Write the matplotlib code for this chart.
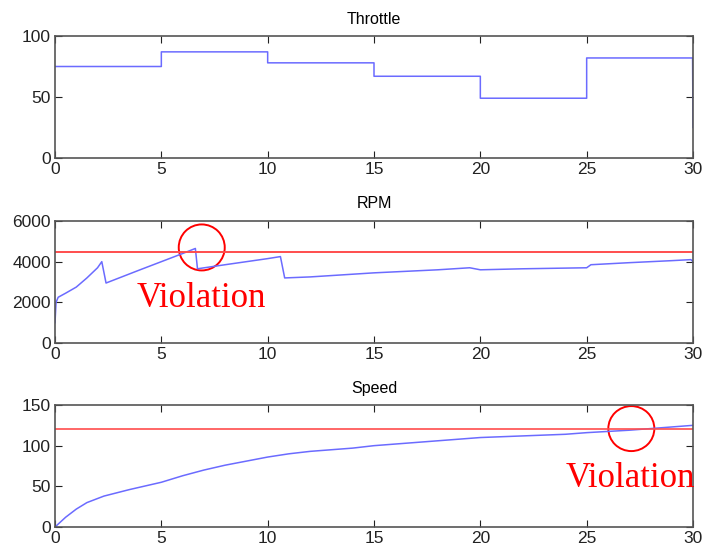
import matplotlib
matplotlib.use("Agg")
import matplotlib.pyplot as plt
from matplotlib.patches import Ellipse

# throttle command (piecewise constant)
throttle_t = [0, 5, 5, 10, 10, 15, 15, 20, 20, 25, 25, 29.98, 30]
throttle_v = [75, 75, 87, 87, 78, 78, 67, 67, 49, 49, 82, 82, 25]

# engine speed
rpm_t = [0, 0.05, 0.15, 0.5, 1.0, 1.5, 2.0, 2.2, 2.4, 4.0, 6.0, 6.6, 6.7, 8.0, 10.0, 10.6, 10.8,
         12.0, 15.0, 18.0, 19.5, 20.0, 22.0, 25.0, 25.2, 27.0, 29.0, 29.9, 30.0]
rpm_v = [1000, 2000, 2250, 2450, 2750, 3200, 3700, 4000, 2950, 3600, 4400, 4650, 3650, 3850, 4150,
         4250, 3200, 3250, 3450, 3600, 3700, 3600, 3650, 3700, 3850, 3950, 4050, 4100, 4000]

# vehicle speed
speed_t = [0, 0.5, 1, 1.5, 2.3, 3.5, 5, 6, 7, 8, 9, 10, 11, 12, 14, 15, 17, 19, 20, 22, 24, 25, 27, 28, 29, 30]
speed_v = [0, 12, 22, 30, 38, 46, 55, 63, 70, 76, 81, 86, 90, 93, 97, 100, 104, 108, 110, 112, 114, 116, 119, 121, 123, 125]

rpm_limit = 4500
speed_limit = 120

plt.rcParams['font.family'] = ['Liberation Sans Narrow', 'Liberation Sans', 'DejaVu Sans']

fig = plt.figure(figsize=(7.03, 5.58), dpi=100)
W, H = 703, 558

def make_ax(top, bottom):
    ax = fig.add_axes([55 / W, 1 - bottom / H, (693 - 55) / W, (bottom - top) / H])
    ax.set_xlim(0, 30)
    ax.set_xticks([0, 5, 10, 15, 20, 25, 30])
    ax.tick_params(direction='in', top=True, right=True, labelsize=12.5, length=5,
                   colors='#222222', pad=3)
    for s in ax.spines.values():
        s.set_color('#555555')
        s.set_linewidth(1.2)
    return ax

blue = '#6b6bff'
red = '#ff4d4d'

ax1 = make_ax(36, 158)
ax1.plot(throttle_t, throttle_v, color=blue, lw=1.1)
ax1.set_ylim(0, 100)
ax1.set_yticks([0, 50, 100])
ax1.set_title('Throttle', fontsize=11.5, pad=9)

ax2 = make_ax(221, 343)
ax2.plot(rpm_t, rpm_v, color=blue, lw=1.1)
ax2.axhline(rpm_limit, color=red, lw=1.4)
ax2.set_ylim(0, 6000)
ax2.set_yticks([0, 2000, 4000, 6000])
ax2.set_title('RPM', fontsize=11.5, pad=9)
# circle drawn in data units sized to look round on screen
ax2.add_patch(Ellipse((6.9, 4700), 46 / 638 * 30, 46 / 122 * 6000, fill=False, ec='red', lw=1.4))
ax2.text(3.86, 1770, 'Violation', family='Liberation Serif', fontsize=25, color='red')

ax3 = make_ax(405, 527)
ax3.plot(speed_t, speed_v, color=blue, lw=1.1)
ax3.axhline(speed_limit, color=red, lw=1.2)
ax3.set_ylim(0, 150)
ax3.set_yticks([0, 50, 100, 150])
ax3.set_title('Speed', fontsize=11.5, pad=9)
ax3.add_patch(Ellipse((27.1, 121), 46 / 638 * 30, 45 / 122 * 150, fill=False, ec='red', lw=1.4))
ax3.text(24.03, 49, 'Violation', family='Liberation Serif', fontsize=25, color='red', clip_on=False)

fig.savefig('out.png', dpi=100)
